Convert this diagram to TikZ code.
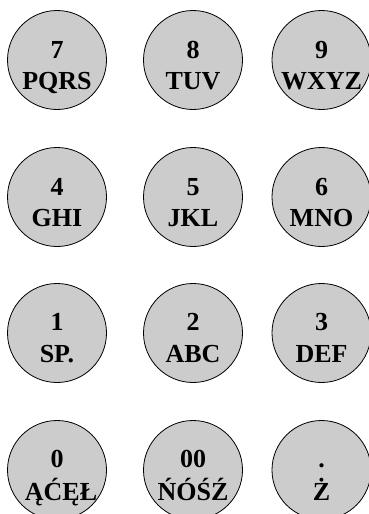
\documentclass[tikz,border=0pt]{standalone}
\usepackage{fontspec}
\setmainfont{Liberation Serif}
\begin{document}
\begin{tikzpicture}[x=1pt, y=-1pt]
% Keypad drawn in pixel units of the page
\providecommand{\padKeyFill}{black!20}
\providecommand{\padKeyLine}{black}
\providecommand{\padKeySize}{99pt}
\tikzset{
  padkey/.style={circle, draw=\padKeyLine, fill=\padKeyFill, line width=0.8pt, minimum size=\padKeySize, inner sep=0pt},
  padtext/.style={anchor=base, inner sep=0pt, font=\bfseries\fontsize{26}{26}\selectfont},
}
\useasboundingbox (0,0) rectangle (368,514);
% Keys
\node[padkey] (k7) at (57,60) {};
\node[padkey] (k8) at (193,60) {};
\node[padkey] (k9) at (321.5,60) {};
\node[padkey] (k4) at (57,197) {};
\node[padkey] (k5) at (193,197) {};
\node[padkey] (k6) at (321.5,197) {};
\node[padkey] (k1) at (57,333) {};
\node[padkey] (k2) at (193,333) {};
\node[padkey] (k3) at (321.5,333) {};
\node[padkey] (k0) at (57,470) {};
\node[padkey] (k00) at (193,470) {};
\node[padkey] (kdot) at (321.5,470) {};
% Digits
\begin{scope}[every node/.style={padtext}]
  \node (k7n) at ([yshift=2pt]k7.center) {7};
  \node (k8n) at ([yshift=2pt]k8.center) {8};
  \node (k9n) at ([yshift=2pt]k9.center) {9};
  \node (k4n) at ([yshift=2pt]k4.center) {4};
  \node (k5n) at ([yshift=2pt]k5.center) {5};
  \node (k6n) at ([yshift=2pt]k6.center) {6};
  \node (k1n) at ([yshift=3pt]k1.center) {1};
  \node (k2n) at ([yshift=3pt]k2.center) {2};
  \node (k3n) at ([yshift=3pt]k3.center) {3};
  \node (k0n) at ([yshift=3pt]k0.center) {0};
  \node (k00n) at ([yshift=3pt]k00.center) {00};
  \node (kdotn) at ([yshift=3pt]kdot.center) {.};
\end{scope}
% Letters
\begin{scope}[every node/.style={padtext}]
  \node (k7l) at ([yshift=-29pt]k7.center) {PQRS};
  \node (k8l) at ([yshift=-29pt]k8.center) {TUV};
  \node (k9l) at ([yshift=-29pt]k9.center) {WXYZ};
  \node (k4l) at ([yshift=-29pt]k4.center) {GHI};
  \node (k5l) at ([yshift=-29pt]k5.center) {JKL};
  \node (k6l) at ([yshift=-29pt]k6.center) {MNO};
  \node (k1l) at ([yshift=-29pt]k1.center) {SP.};
  \node (k2l) at ([yshift=-29pt]k2.center) {ABC};
  \node (k3l) at ([yshift=-29pt]k3.center) {DEF};
  \node (k0l) at ([xshift=4pt,yshift=-30pt]k0.center) {ĄĆĘŁ};
  \node (k00l) at ([yshift=-30pt]k00.center) {ŃÓŚŹ};
  \node (kdotl) at ([yshift=-30pt]kdot.center) {Ż};
\end{scope}
\end{tikzpicture}
\end{document}
